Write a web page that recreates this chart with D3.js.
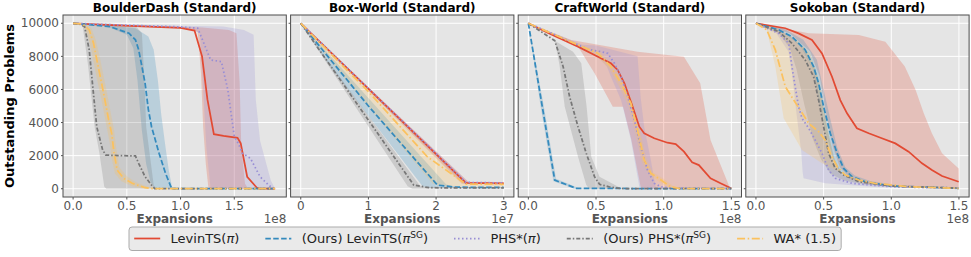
<!DOCTYPE html>
<html><head><meta charset="utf-8">
<script src="https://cdn.jsdelivr.net/npm/d3@7"></script>
<style>body{margin:0;background:#fff} text{font-family:"DejaVu Sans",sans-serif}</style>
</head><body><svg id="c" width="971" height="257"></svg>
<script>
// ---------- DATA (x in panel units: 1e8 or 1e7, y = outstanding problems) ----------
const panelTitles = ["BoulderDash (Standard)", "Box-World (Standard)", "CraftWorld (Standard)", "Sokoban (Standard)"];
const yTicks = [0, 2000, 4000, 6000, 8000, 10000];
const xTicksBD = [0, 0.5, 1.0, 1.5];
const xTicksBW = [0, 1, 2, 3];
const xTicksCW = [0, 0.5, 1.0, 1.5];
const xTicksSK = [0, 0.5, 1.0, 1.5];
const offsetLabels = ["1e8", "1e7", "1e8", "1e8"];
const seriesNames = ["LevinTS(π)", "(Ours) LevinTS(πSG)", "PHS*(π)", "(Ours) PHS*(πSG)", "WA* (1.5)"];

// BoulderDash
const bd_levin = [[0,10000],[0.3,9900],[0.7,9800],[1.0,9720],[1.13,9560],[1.2,8000],[1.25,5400],[1.31,3300],[1.4,3200],[1.53,3080],[1.56,2750],[1.62,725],[1.71,60],[1.74,0],[1.88,0]];
const bd_levin_lo = [[0,10000],[1.1,9650],[1.16,9450],[1.19,7000],[1.21,3750],[1.235,1500],[1.26,0],[1.88,0]];
const bd_levin_hi = [[0,10000],[0.7,9850],[1.2,9750],[1.45,9600],[1.52,9400],[1.55,6400],[1.565,2500],[1.6,300],[1.63,0],[1.88,0]];
const bd_levinSG = [[0,10000],[0.15,9920],[0.34,9800],[0.52,9400],[0.58,9000],[0.61,8400],[0.64,7400],[0.67,6370],[0.70,4800],[0.73,3750],[0.80,2140],[0.86,930],[0.91,120],[0.93,0],[1.88,0]];
const bd_levinSG_lo = [[0,10000],[0.3,9850],[0.5,9300],[0.56,8500],[0.6,6500],[0.64,3500],[0.68,1500],[0.72,400],[0.76,0],[1.88,0]];
const bd_levinSG_hi = [[0,10000],[0.3,9900],[0.58,9700],[0.70,9200],[0.75,8400],[0.79,6500],[0.82,4500],[0.86,2500],[0.89,1130],[0.92,120],[0.94,0],[1.88,0]];
const bd_phs = [[0,10000],[0.5,9880],[1.0,9780],[1.16,9700],[1.28,7780],[1.38,7680],[1.44,5970],[1.5,3150],[1.54,2700],[1.575,2140],[1.65,1840],[1.74,725],[1.82,220],[1.86,0],[1.88,0]];
const bd_phs_lo = [[0,10000],[1.1,9700],[1.18,9400],[1.21,6000],[1.24,2500],[1.28,0],[1.88,0]];
const bd_phs_hi = [[0,10000],[1.0,9850],[1.4,9800],[1.59,9600],[1.68,9300],[1.70,5400],[1.74,2900],[1.84,500],[1.88,0]];
const bd_phsSG = [[0,10000],[0.06,9950],[0.107,9800],[0.15,8390],[0.18,6370],[0.22,3750],[0.275,2340],[0.305,2030],[0.45,2000],[0.58,1980],[0.61,1530],[0.67,725],[0.73,220],[0.76,0],[1.88,0]];
const bd_phsSG_lo = [[0,10000],[0.05,9950],[0.09,9800],[0.14,7400],[0.2,3750],[0.245,2140],[0.29,120],[0.31,0],[1.88,0]];
const bd_phsSG_hi = [[0,10000],[0.34,9980],[0.58,9850],[0.64,9400],[0.665,6400],[0.68,3750],[0.72,1730],[0.75,220],[0.77,0],[1.88,0]];
const bd_wa = [[0,10000],[0.09,9950],[0.15,9600],[0.19,8800],[0.23,7500],[0.28,5900],[0.33,4200],[0.36,3300],[0.38,2200],[0.41,1130],[0.47,630],[0.55,330],[0.67,60],[0.75,0],[1.88,0]];
const bd_wa_lo = [[0,10000],[0.08,9900],[0.13,9400],[0.17,8400],[0.21,7000],[0.26,5500],[0.31,3800],[0.34,2800],[0.36,1800],[0.39,900],[0.45,450],[0.55,150],[0.65,0],[1.88,0]];
const bd_wa_hi = [[0,10000],[0.11,9950],[0.17,9700],[0.21,9000],[0.25,7900],[0.30,6300],[0.35,4600],[0.38,3600],[0.40,2500],[0.43,1300],[0.5,750],[0.58,400],[0.7,100],[0.78,0],[1.88,0]];

// Box-World
const bw_levin = [[0,10000],[2.44,360],[3.0,330]];
const bw_levin_lo = [[0,10000],[2.38,300],[3.0,280]];
const bw_levin_hi = [[0,10000],[2.48,400],[3.0,380]];
const bw_levinSG = [[0,10000],[0.4,8000],[1.0,5000],[2.02,220],[2.3,90],[3.0,85]];
const bw_levinSG_lo = [[0,10000],[0.4,7600],[1.80,150],[1.9,60],[3.0,50]];
const bw_levinSG_hi = [[0,10000],[0.4,8200],[2.15,250],[2.3,120],[3.0,100]];
const bw_phs = [[0,10000],[2.44,380],[3.0,350]];
const bw_phs_lo = [[0,10000],[2.40,320],[3.0,300]];
const bw_phs_hi = [[0,10000],[2.47,420],[3.0,400]];
const bw_phsSG = [[0,10000],[1.67,220],[1.9,60],[3.0,50]];
const bw_phsSG_lo = [[0,10000],[0.4,7500],[1.58,150],[1.65,0],[3.0,0]];
const bw_phsSG_hi = [[0,10000],[0.3,8300],[1.76,200],[1.85,100],[3.0,80]];
const bw_wa = [[0,10000],[0.3,8750],[1.0,5870],[1.87,1935],[2.44,284],[3.0,270]];
const bw_wa_lo = [[0,10000],[0.4,7900],[1.95,300],[2.1,150],[3.0,120]];
const bw_wa_hi = [[0,10000],[2.42,380],[3.0,340]];

// CraftWorld
const cw_levin = [[0,10000],[0.15,9400],[0.367,8590],[0.514,7980],[0.61,7580],[0.66,7180],[0.71,6370],[0.77,4960],[0.82,3750],[0.856,3350],[0.93,3050],[1.028,2780],[1.089,2700],[1.15,2240],[1.21,1600],[1.26,1430],[1.346,630],[1.42,326],[1.49,60],[1.5,30]];
const cw_levin_lo = [[0,10000],[0.3,8900],[0.367,8590],[0.489,6980],[0.624,4960],[0.70,4960],[0.76,3000],[0.83,120],[0.85,0],[1.5,0]];
const cw_levin_hi = [[0,10000],[0.318,8990],[0.807,8280],[1.15,7980],[1.27,6370],[1.346,2940],[1.49,24],[1.5,0]];
const cw_levinSG = [[0,10000],[0.1,5100],[0.195,520],[0.355,20],[1.5,0]];
const cw_levinSG_lo = [[0,10000],[0.09,5000],[0.185,450],[0.34,0],[1.5,0]];
const cw_levinSG_hi = [[0,10000],[0.11,5200],[0.205,600],[0.37,40],[1.5,0]];
const cw_phs = [[0,10000],[0.2,9300],[0.44,8430],[0.54,8280],[0.587,8180],[0.636,7580],[0.685,6770],[0.734,5560],[0.783,4150],[0.83,2540],[0.88,1130],[0.93,326],[0.979,120],[1.05,40],[1.5,0]];
const cw_phs_lo = [[0,10000],[0.3,8900],[0.5,8100],[0.58,7400],[0.61,6770],[0.685,5360],[0.758,2940],[0.82,120],[0.84,0],[1.5,0]];
const cw_phs_hi = [[0,10000],[0.4,8700],[0.5,8650],[0.807,8000],[0.83,5500],[0.856,3750],[0.905,1735],[0.94,120],[0.96,0],[1.5,0]];
const cw_phsSG = [[0,10000],[0.195,8950],[0.257,7380],[0.305,5560],[0.367,3750],[0.428,2140],[0.489,725],[0.526,266],[0.61,85],[0.71,0],[1.5,0]];
const cw_phsSG_lo = [[0,10000],[0.195,8950],[0.23,7500],[0.269,4960],[0.367,1935],[0.428,224],[0.45,0],[1.5,0]];
const cw_phsSG_hi = [[0,10000],[0.195,8950],[0.33,8280],[0.391,7580],[0.43,5000],[0.465,1935],[0.526,725],[0.685,24],[0.72,0],[1.5,0]];
const cw_wa = [[0,10000],[0.367,8690],[0.514,8180],[0.61,7380],[0.685,6370],[0.758,5160],[0.807,3550],[0.856,1735],[0.905,930],[0.98,526],[1.05,120],[1.12,0],[1.5,0]];
const cw_wa_lo = [[0,10000],[0.36,8600],[0.5,8050],[0.6,7200],[0.67,6200],[0.74,5000],[0.79,3400],[0.84,1600],[0.89,850],[0.96,450],[1.03,80],[1.1,0],[1.5,0]];
const cw_wa_hi = [[0,10000],[0.37,8750],[0.53,8300],[0.62,7500],[0.70,6500],[0.77,5300],[0.82,3700],[0.87,1850],[0.92,1000],[1.0,600],[1.07,160],[1.14,0],[1.5,0]];

// Sokoban
const sk_levin = [[0,10000],[0.217,9700],[0.315,9390],[0.414,8990],[0.488,8180],[0.562,6770],[0.623,5360],[0.673,4560],[0.746,3650],[0.833,3350],[0.93,3050],[1.03,2740],[1.128,2240],[1.227,1535],[1.30,1130],[1.375,770],[1.498,420]];
const sk_levin_lo = [[0,10000],[0.25,9400],[0.4,8300],[0.47,6800],[0.52,4500],[0.57,2500],[0.62,1300],[0.7,600],[0.85,250],[1.1,100],[1.5,40]];
const sk_levin_hi = [[0,10000],[0.2,9700],[0.39,9400],[0.76,9290],[0.956,8890],[1.10,7380],[1.18,5970],[1.24,4560],[1.30,3350],[1.375,2140],[1.498,1230]];
const sk_levinSG = [[0,10000],[0.168,9600],[0.266,9190],[0.364,8390],[0.426,7380],[0.463,6370],[0.5,4960],[0.549,3350],[0.6,2140],[0.648,1230],[0.71,725],[0.808,420],[1.0,160],[1.498,24]];
const sk_levinSG_lo = [[0,10000],[0.2,9500],[0.33,8600],[0.42,7200],[0.47,5000],[0.52,3200],[0.57,1800],[0.62,1000],[0.7,600],[0.9,200],[1.5,20]];
const sk_levinSG_hi = [[0,10000],[0.2,9700],[0.35,9000],[0.45,7800],[0.5,6000],[0.55,4200],[0.6,2500],[0.66,1300],[0.73,800],[0.85,450],[1.1,150],[1.5,30]];
const sk_phs = [[0,10000],[0.168,9390],[0.242,8790],[0.266,7380],[0.29,6170],[0.315,4960],[0.34,4260],[0.39,3650],[0.438,2940],[0.488,2140],[0.537,1130],[0.586,630],[0.71,326],[1.0,120],[1.498,24]];
const sk_phs_lo = [[0,10000],[0.15,9400],[0.24,8300],[0.266,7000],[0.3,4500],[0.335,2200],[0.345,1000],[0.352,630],[0.512,326],[0.88,100],[1.5,10]];
const sk_phs_hi = [[0,10000],[0.25,9300],[0.36,8300],[0.44,6800],[0.48,5000],[0.52,3000],[0.56,1700],[0.62,900],[0.75,400],[1.0,150],[1.5,30]];
const sk_phsSG = [[0,10000],[0.168,9500],[0.266,8790],[0.364,7780],[0.426,6770],[0.463,5360],[0.5,3750],[0.537,2140],[0.586,1230],[0.648,830],[0.76,420],[1.0,160],[1.498,40]];
const sk_phsSG_lo = [[0,10000],[0.168,9400],[0.25,8500],[0.3,7200],[0.36,5000],[0.42,3000],[0.48,1800],[0.55,900],[0.65,500],[0.8,250],[1.0,100],[1.5,20]];
const sk_phsSG_hi = [[0,10000],[0.2,9500],[0.36,8500],[0.44,7200],[0.49,5500],[0.53,3500],[0.58,1800],[0.63,1000],[0.72,600],[0.9,250],[1.5,50]];
const sk_wa = [[0,10000],[0.08,9600],[0.143,8390],[0.217,6170],[0.279,5360],[0.327,4760],[0.39,3950],[0.463,3450],[0.512,2940],[0.549,2140],[0.6,1330],[0.66,830],[0.76,526],[0.88,326],[1.13,120],[1.498,24]];
const sk_wa_lo = [[0,10000],[0.08,9600],[0.143,7380],[0.205,4260],[0.34,2340],[0.488,1535],[0.636,930],[0.76,400],[1.0,150],[1.5,20]];
const sk_wa_hi = [[0,10000],[0.15,9700],[0.3,9000],[0.4,8200],[0.47,6500],[0.52,4000],[0.57,2000],[0.62,1000],[0.7,600],[0.85,350],[1.1,150],[1.5,40]];

// ---------- STYLE / LAYOUT ----------
const colors = ["#E24A33", "#348ABD", "#988ED5", "#777777", "#FBC15E"];
const dashes = [null, "5.5,2.4", "1.5,2.5", "4,2,1.5,2", "8,2.6,1.5,2.6"];
const panels = [
  {title: panelTitles[0], dom: [-0.094, 1.984], ticks: xTicksBD, fmt: d3.format(".1f"), off: offsetLabels[0],
   lines: [bd_levin, bd_levinSG, bd_phs, bd_phsSG, bd_wa],
   los: [bd_levin_lo, bd_levinSG_lo, bd_phs_lo, bd_phsSG_lo, bd_wa_lo],
   his: [bd_levin_hi, bd_levinSG_hi, bd_phs_hi, bd_phsSG_hi, bd_wa_hi]},
  {title: panelTitles[1], dom: [-0.15, 3.15], ticks: xTicksBW, fmt: d3.format("d"), off: offsetLabels[1],
   lines: [bw_levin, bw_levinSG, bw_phs, bw_phsSG, bw_wa],
   los: [bw_levin_lo, bw_levinSG_lo, bw_phs_lo, bw_phsSG_lo, bw_wa_lo],
   his: [bw_levin_hi, bw_levinSG_hi, bw_phs_hi, bw_phsSG_hi, bw_wa_hi]},
  {title: panelTitles[2], dom: [-0.075, 1.575], ticks: xTicksCW, fmt: d3.format(".1f"), off: offsetLabels[2],
   lines: [cw_levin, cw_levinSG, cw_phs, cw_phsSG, cw_wa],
   los: [cw_levin_lo, cw_levinSG_lo, cw_phs_lo, cw_phsSG_lo, cw_wa_lo],
   his: [cw_levin_hi, cw_levinSG_hi, cw_phs_hi, cw_phsSG_hi, cw_wa_hi]},
  {title: panelTitles[3], dom: [-0.075, 1.575], ticks: xTicksSK, fmt: d3.format(".1f"), off: offsetLabels[3],
   lines: [sk_levin, sk_levinSG, sk_phs, sk_phsSG, sk_wa],
   los: [sk_levin_lo, sk_levinSG_lo, sk_phs_lo, sk_phsSG_lo, sk_wa_lo],
   his: [sk_levin_hi, sk_levinSG_hi, sk_phs_hi, sk_phsSG_hi, sk_wa_hi]}
];

const svg = d3.select("#c");
const pTop = 15, pBot = 197, pw = 223.3, gap = 4.3, left0 = 63;
const y = d3.scaleLinear().domain([-500, 10500]).range([pBot, pTop]);
const tickCol = "#555";
const lw = 1.75;

panels.forEach((p, i) => {
  const L = left0 + i * (pw + gap), R = L + pw;
  const x = d3.scaleLinear().domain(p.dom).range([L, R]);
  const g = svg.append("g");
  g.append("rect").attr("x", L).attr("y", pTop).attr("width", pw).attr("height", pBot - pTop).attr("fill", "#E5E5E5");
  const clipId = "clip" + i;
  g.append("clipPath").attr("id", clipId).append("rect").attr("x", L).attr("y", pTop).attr("width", pw).attr("height", pBot - pTop);
  // grid
  g.selectAll(".gy").data(yTicks).join("line").attr("x1", L).attr("x2", R)
    .attr("y1", d => y(d)).attr("y2", d => y(d)).attr("stroke", "#fff").attr("stroke-width", 1);
  g.selectAll(".gx").data(p.ticks).join("line").attr("y1", pTop).attr("y2", pBot)
    .attr("x1", d => x(d)).attr("x2", d => x(d)).attr("stroke", "#fff").attr("stroke-width", 1);
  const plot = g.append("g").attr("clip-path", `url(#${clipId})`);
  const line = d3.line().x(d => x(d[0])).y(d => y(d[1]));
  // bands
  p.lines.forEach((_, k) => {
    const poly = p.his[k].concat(p.los[k].slice().reverse());
    plot.append("path").attr("d", line(poly) + "Z").attr("fill", colors[k]).attr("fill-opacity", 0.24).attr("stroke", "none");
  });
  // lines
  p.lines.forEach((ln, k) => {
    const pth = plot.append("path").attr("d", line(ln)).attr("fill", "none").attr("stroke", colors[k]).attr("stroke-width", lw);
    if (dashes[k]) pth.attr("stroke-dasharray", dashes[k]);
  });
  // frame
  g.append("rect").attr("x", L).attr("y", pTop).attr("width", pw).attr("height", pBot - pTop)
    .attr("fill", "none").attr("stroke", "#4d4d4d").attr("stroke-width", 1);
  // x ticks
  g.selectAll(".xt").data(p.ticks).join("line").attr("x1", d => x(d)).attr("x2", d => x(d))
    .attr("y1", pBot).attr("y2", pBot + 2.5).attr("stroke", tickCol);
  g.selectAll(".xl").data(p.ticks).join("text").attr("x", d => x(d)).attr("y", 209.5)
    .attr("text-anchor", "middle").attr("font-size", 12).attr("fill", tickCol).text(d => p.fmt(d));
  // y ticks (first panel only labels)
  g.selectAll(".yt").data(yTicks).join("line").attr("x1", L - 2).attr("x2", L)
    .attr("y1", d => y(d)).attr("y2", d => y(d)).attr("stroke", tickCol);
  if (i === 0) {
    g.selectAll(".yl").data(yTicks).join("text").attr("x", L - 4).attr("y", d => y(d)).attr("dy", "0.35em")
      .attr("text-anchor", "end").attr("font-size", 12).attr("fill", tickCol).text(d => d);
  }
  // title
  g.append("text").attr("x", (L + R) / 2).attr("y", 12.3).attr("text-anchor", "middle")
    .attr("font-size", 12).attr("font-weight", "bold").attr("fill", "#000").text(p.title);
  // x label + offset
  g.append("text").attr("x", (L + R) / 2).attr("y", 222.5).attr("text-anchor", "middle")
    .attr("font-size", 12).attr("font-weight", "bold").attr("fill", tickCol).text("Expansions");
  g.append("text").attr("x", R).attr("y", 222.5).attr("text-anchor", "end")
    .attr("font-size", 12).attr("fill", tickCol).text(p.off);
});

// y label
svg.append("text").attr("transform", "translate(13.5,106) rotate(-90)").attr("text-anchor", "middle")
  .attr("font-size", 13).attr("font-weight", "bold").attr("fill", "#000").text("Outstanding Problems");

// legend
const fs = 13, lg = svg.append("g");
const box = lg.append("rect").attr("y", 227).attr("height", 23.5).attr("rx", 3)
  .attr("fill", "#EAEAEA").attr("stroke", "#ababab").attr("stroke-width", 1);
let cx = 129 + 0.4 * fs;
const ty = 243;
seriesNames.forEach((name, k) => {
  const hl = lg.append("line").attr("x1", cx).attr("x2", cx + 2 * fs).attr("y1", ty - 4.5).attr("y2", ty - 4.5)
    .attr("stroke", colors[k]).attr("stroke-width", lw);
  if (dashes[k]) hl.attr("stroke-dasharray", dashes[k]);
  cx += 2 * fs + 0.8 * fs;
  const t = lg.append("text").attr("x", cx).attr("y", ty).attr("font-size", fs).attr("fill", "#222");
  const m = name.match(/^(.*?)π(SG)?\)(.*)$/);
  if (m) {
    t.append("tspan").text(m[1]);
    t.append("tspan").attr("font-style", "italic").text("π");
    if (m[2]) {
      t.append("tspan").attr("font-size", 9).attr("dy", -5).text("SG");
      t.append("tspan").attr("dy", 5).text(")" + m[3]);
    } else t.append("tspan").text(")" + m[3]);
  } else t.text(name);
  cx += t.node().getComputedTextLength();
  if (k < seriesNames.length - 1) cx += 2 * fs;
});
box.attr("x", 129).attr("width", cx + 0.4 * fs - 129);
</script></body></html>
